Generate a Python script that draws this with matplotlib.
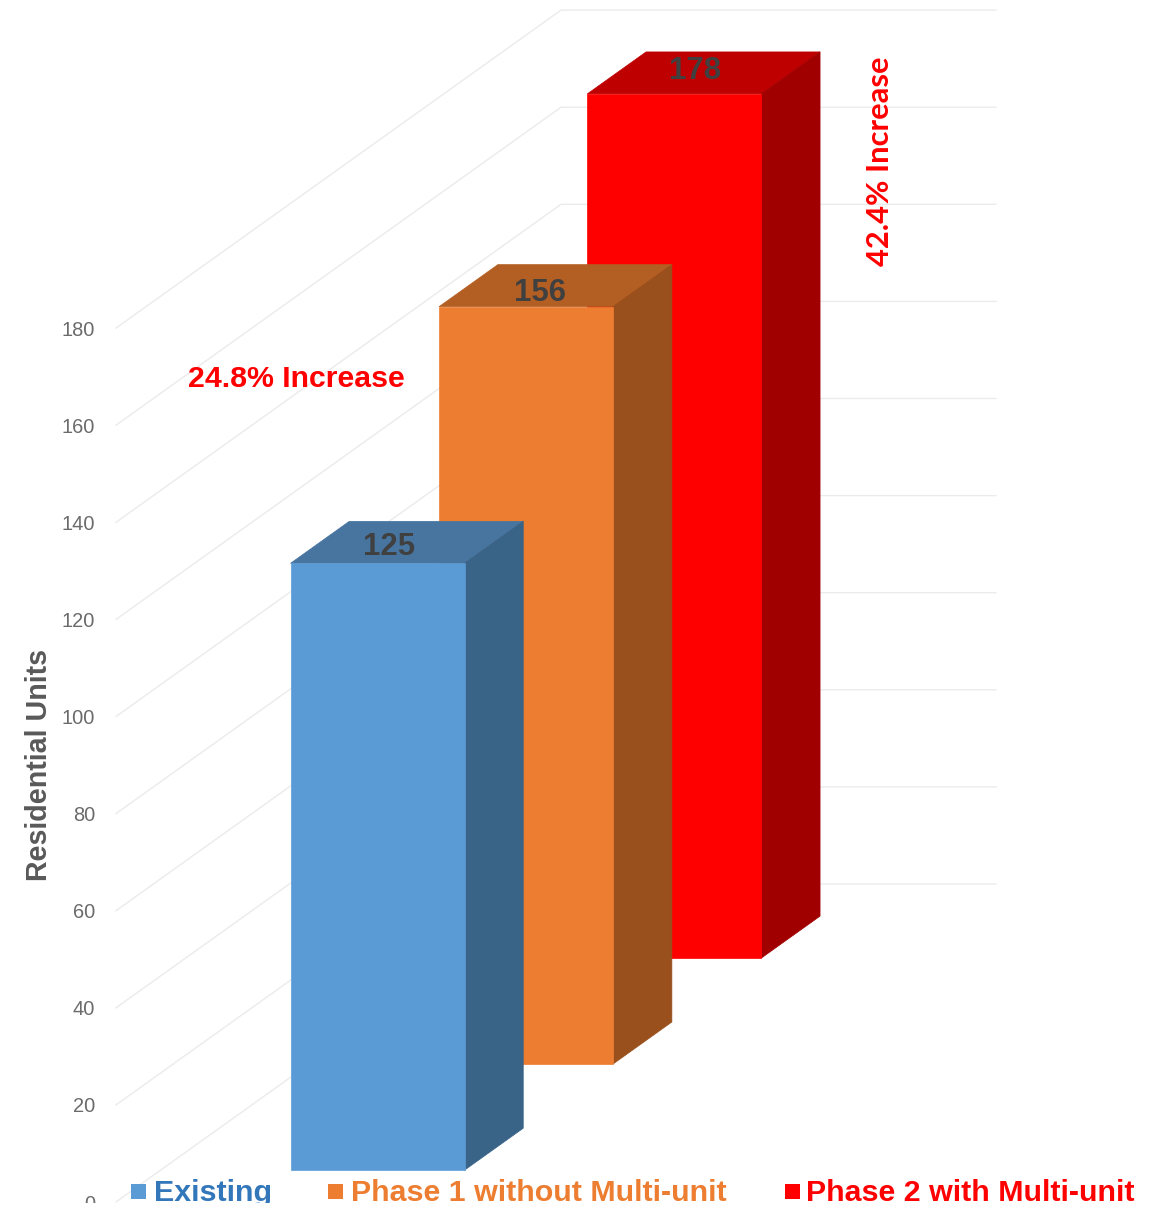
import matplotlib; matplotlib.use("Agg")
import matplotlib.pyplot as plt
from matplotlib.patches import Polygon, Rectangle

plt.rcParams["font.family"] = ["Liberation Sans", "DejaVu Sans"]

# ---- data ----
categories = ["Existing", "Phase 1 without Multi-unit", "Phase 2 with Multi-unit"]
values = [125, 156, 178]
ticks = [0, 20, 40, 60, 80, 100, 120, 140, 160, 180]
ylabel = "Residential Units"
note_phase1 = "24.8% Increase"
note_phase2 = "42.4% Increase"

front_colors = ["#5B9BD5", "#ED7D31", "#FF0000"]
top_colors = ["#4775A0", "#B35E22", "#BF0000"]
side_colors = ["#396387", "#99501C", "#A00000"]
legend_text_colors = ["#3377BB", "#ED7D31", "#FF0000"]

# ---- oblique projection: (across, value, depth) -> pixels ----
W, H = 1161, 1205
ORIGIN_X, ORIGIN_Y = 116, 1202
PX_PER_UNIT = 4.855
DEPTH_DX, DEPTH_DY = 445, -318
WALL_WIDTH = 435
BAR_LEFT, BAR_WIDTH = 130, 174
BAR_DEPTH = 0.132
bar_depths = [0.100, 0.434, 0.767]
label_dx = [-18, -16, -9]   # labels sit left of the top face centre
label_dy = [5, 7, -2]


def project(across, value, depth=0.0):
    return (ORIGIN_X + across + depth * DEPTH_DX,
            ORIGIN_Y - value * PX_PER_UNIT + depth * DEPTH_DY)


# the source image is cut off just above its bottom edge
fig = plt.figure(figsize=(W / 100, H / 100), dpi=100)
ax = fig.add_axes([0, 2 / H, 1, 1203 / H])
ax.set_xlim(0, W); ax.set_ylim(1203, 0); ax.axis("off")

# ---- grid: side wall then back wall ----
for t in ticks:
    pts = [project(0, t), project(0, t, 1), project(WALL_WIDTH, t, 1)]
    ax.plot(*zip(*pts), color="#EBEBEB", lw=1, zorder=1)
    x, y = project(0, t)
    ax.text(95, y + 2, str(t), ha="right", va="center", fontsize=14.4, color="#6B6B6B", clip_on=True)

ax.text(39, 765, ylabel, rotation=90, ha="center", va="center",
        fontsize=20.6, fontweight="bold", color="#595959")

# ---- bars, back to front ----
for i in reversed(range(len(values))):
    v, d0, d1 = values[i], bar_depths[i], bar_depths[i] + BAR_DEPTH
    l, r = BAR_LEFT, BAR_LEFT + BAR_WIDTH
    z = 10 + (len(values) - i)
    # thin same-colour edge hides the seams between a bar and the one behind it
    ax.add_patch(Polygon([project(l, v, d0), project(r, v, d0), project(r, v, d1), project(l, v, d1)],
                         fc=top_colors[i], ec=top_colors[i], lw=0.5, zorder=z))
    ax.add_patch(Polygon([project(r, 0, d0), project(r, 0, d1), project(r, v, d1), project(r, v, d0)],
                         fc=side_colors[i], ec=side_colors[i], lw=0.5, zorder=z))
    ax.add_patch(Polygon([project(l, 0, d0), project(r, 0, d0), project(r, v, d0), project(l, v, d0)],
                         fc=front_colors[i], ec=front_colors[i], lw=0.5, zorder=z))
    x, y = project((l + r) / 2, v, (d0 + d1) / 2)
    ax.text(x + label_dx[i], y + label_dy[i], str(v), ha="center", va="center", fontsize=22.4,
            fontweight="bold", color="#404040", zorder=z + 0.5)

# ---- annotations ----
ax.text(188, 379, note_phase1, ha="left", va="center", fontsize=21.8, fontweight="bold",
        color="#FF0000", zorder=20)
ax.text(880, 161, note_phase2, rotation=90, ha="center", va="center", fontsize=22.2,
        fontweight="bold", family=["Lato", "DejaVu Sans"], color="#FF0000", zorder=20)

# ---- legend ----
legend_box_x = [131, 328, 785]
legend_text_x = [154, 351, 806]
for name, bx, tx, fc, tc in zip(categories, legend_box_x, legend_text_x, front_colors, legend_text_colors):
    ax.add_patch(Rectangle((bx, 1184), 15, 15, fc=fc, ec="none", zorder=25))
    ax.text(tx, 1201, name, ha="left", va="baseline", fontsize=21.85, fontweight="bold",
            color=tc, zorder=25, clip_on=True)

fig.savefig("out.png", dpi=100, facecolor="white")
